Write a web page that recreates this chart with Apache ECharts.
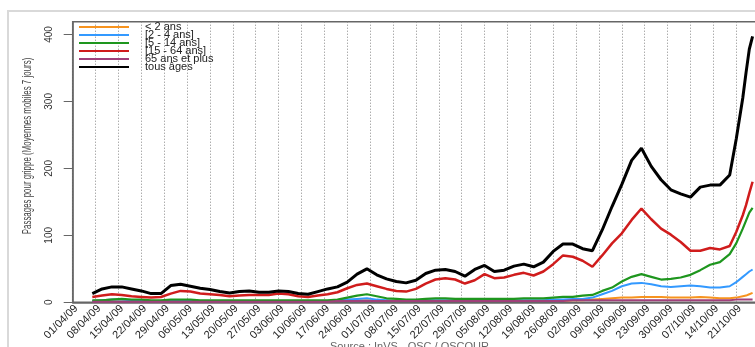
<!DOCTYPE html>
<html>
<head>
<meta charset="utf-8">
<script src="https://cdn.jsdelivr.net/npm/echarts@6/dist/echarts.min.js"></script>
<style>
  html, body { margin: 0; padding: 0; background: #fff; }
  #chart { width: 755px; height: 347px; }
</style>
</head>
<body>
<div id="chart"></div>
<script>
// weekly tick labels (day 0 = 01/04/09)
var tickLabels = ["01/04/09", "08/04/09", "15/04/09", "22/04/09", "29/04/09", "06/05/09", "13/05/09",
  "20/05/09", "27/05/09", "03/06/09", "10/06/09", "17/06/09", "24/06/09", "01/07/09", "08/07/09",
  "15/07/09", "22/07/09", "29/07/09", "05/08/09", "12/08/09", "19/08/09", "26/08/09", "02/09/09",
  "09/09/09", "16/09/09", "23/09/09", "30/09/09", "07/10/09", "14/10/09", "21/10/09"]

// sample days (days since 01/04/09)
var days = [6, 9, 12, 15, 18, 21, 24, 27, 30, 33, 36, 39, 42, 45, 48, 51, 54, 57, 60, 63, 66, 69, 72, 75,
  78, 81, 84, 87, 90, 93, 96, 99, 102, 105, 108, 111, 114, 117, 120, 123, 126, 129, 132, 135, 138, 141,
  144, 147, 150, 153, 156, 159, 162, 165, 168, 171, 174, 177, 180, 183, 186, 189, 192, 195, 198, 201,
  203, 205, 206, 207, 208]

var moins2 = [2, 3, 4, 4, 3, 2, 2, 2, 2, 2, 2, 2, 2, 2, 2, 2, 2, 2, 2, 2, 2, 2, 2, 2,
  2, 2, 3, 3, 3, 3, 2, 2, 2, 2, 2, 2, 2, 2, 2, 2, 2, 2, 2, 2, 2, 2,
  2, 2, 2, 3, 3, 4, 5, 6, 7, 7, 8, 8, 8, 7, 7, 7, 8, 7, 6, 6,
  7, 9, 10, 12, 14]
var de2a4 = [2, 3, 4, 4, 3, 2, 2, 2, 2, 2, 2, 2, 2, 2, 2, 2, 2, 2, 2, 2, 2, 2, 2, 2,
  2, 3, 4, 5, 6, 4, 3, 2, 2, 2, 3, 3, 3, 3, 3, 3, 3, 3, 3, 3, 3, 3,
  3, 4, 4, 5, 5, 7, 12, 17, 24, 28, 29, 27, 24, 23, 24, 25, 24, 22, 22, 24,
  30, 38, 42, 46, 49]
var de5a14 = [3, 3, 4, 5, 4, 4, 3, 3, 4, 4, 4, 3, 3, 3, 3, 3, 3, 3, 3, 3, 3, 3, 3, 3,
  3, 4, 7, 10, 12, 9, 6, 5, 4, 4, 5, 6, 6, 5, 5, 5, 5, 5, 5, 5, 6, 6,
  6, 7, 8, 8, 10, 11, 17, 22, 31, 38, 42, 38, 34, 35, 37, 41, 48, 56, 60, 72,
  88, 110, 122, 134, 141]
var de15a64 = [8, 10, 12, 11, 9, 8, 7, 8, 13, 17, 16, 13, 12, 11, 9, 10, 11, 11, 11, 13, 12, 9, 8, 10,
  12, 15, 21, 26, 28, 24, 20, 17, 16, 20, 28, 34, 36, 34, 28, 33, 42, 36, 37, 41, 44, 40,
  46, 57, 70, 68, 62, 53, 70, 88, 103, 123, 140, 124, 110, 101, 90, 77, 77, 81, 79, 84,
  105, 130, 145, 163, 180]
var plus65 = [1, 1, 1, 1, 1, 1, 1, 1, 1, 1, 1, 1, 1, 1, 1, 1, 1, 1, 1, 1, 1, 1, 1, 1,
  1, 2, 2, 2, 2, 2, 2, 2, 2, 2, 2, 2, 2, 2, 2, 2, 2, 2, 2, 2, 2, 2,
  2, 2, 2, 3, 3, 3, 3, 3, 3, 3, 3, 3, 3, 3, 3, 3, 3, 3, 3, 3,
  4, 4, 4, 4, 4]
var tous = [13, 20, 23, 23, 20, 17, 13, 13, 25, 27, 24, 21, 19, 16, 14, 16, 17, 15, 15, 17, 16, 13, 12, 16,
  20, 23, 30, 42, 50, 41, 35, 31, 29, 33, 43, 48, 49, 46, 39, 49, 55, 46, 48, 54, 57, 53,
  60, 76, 87, 87, 80, 77, 108, 143, 176, 212, 230, 203, 183, 168, 162, 157, 172, 175, 175, 190,
  244, 305, 343, 378, 397]

var seriesNames = ["< 2 ans", "[2 - 4 ans]", "[5 - 14 ans]", "[15 - 64 ans]", "65 ans et plus", "tous âges"]
var seriesValues = [moins2, de2a4, de5a14, de15a64, plus65, tous]
var colors = ["#f7931e", "#3399ff", "#1e961e", "#d01c1c", "#a0407a", "#000000"]
var widths = [2, 2, 2.2, 2.5, 2, 3]

function pairs(vals) {
  return days.map(function (d, i) { return [d, vals[i]] })
}

var chart = echarts.init(document.getElementById('chart'))
var option = {
  animation: false,
  backgroundColor: '#fff',
  color: colors,
  graphic: [
    {
      type: 'rect',
      shape: { x: 8, y: 11, width: 800, height: 400 },
      style: { fill: 'none', stroke: '#d9d9d9', lineWidth: 2 },
      silent: true
    },
    {
      type: 'text',
      x: 28,
      y: 146,
      rotation: Math.PI / 2,
      scaleX: 0.66,
      style: {
        text: 'Passages pour grippe (Moyennes mobiles 7 jours)',
        fill: '#444',
        font: '12px "Liberation Sans", Arial, sans-serif',
        textAlign: 'center',
        textVerticalAlign: 'middle'
      }
    },
    {
      type: 'text',
      x: 330,
      y: 341,
      style: {
        text: 'Source : InVS - OSC / OSCOUR',
        fill: '#666',
        font: '11px "Liberation Sans", Arial, sans-serif',
        textAlign: 'left',
        textVerticalAlign: 'top'
      }
    }
  ],
  legend: {
    orient: 'vertical',
    left: 79,
    top: 20.5,
    padding: 0,
    icon: 'rect',
    itemWidth: 50,
    itemHeight: 2,
    itemGap: -5,
    data: seriesNames,
    textStyle: {
      color: '#222',
      fontSize: 11,
      lineHeight: 13,
      fontFamily: 'Liberation Sans',
      padding: [0, 0, 0, 11]
    }
  },
  grid: {
    left: 72.7,
    top: 21.7,
    bottom: 44.7,
    right: -27,
    outerBoundsMode: 'none',
    show: true,
    borderColor: '#666',
    borderWidth: 1.5
  },
  xAxis: {
    type: 'value',
    min: 0,
    max: 217,
    interval: 7,
    axisLine: { show: true, lineStyle: { color: '#666', width: 1.5 } },
    axisTick: { show: false },
    splitLine: { show: true, lineStyle: { color: '#888', type: [1, 2], width: 1 } },
    axisLabel: {
      rotate: 45,
      margin: 8,
      fontSize: 11,
      color: '#222',
      fontFamily: 'Liberation Sans',
      showMaxLabel: false,
      padding: [10, -5, 0, 0],
      formatter: function (v) {
        var k = Math.round(v / 7)
        return tickLabels[k] || ''
      }
    }
  },
  yAxis: {
    type: 'value',
    min: 0,
    max: 419,
    axisLine: { show: true, lineStyle: { color: '#666', width: 1.5 } },
    axisTick: { show: true, length: 9, customValues: [0, 100, 200, 300, 400], lineStyle: { color: '#666' } },
    splitLine: { show: false },
    axisLabel: {
      rotate: 90,
      margin: 18,
      fontSize: 10,
      color: '#333',
      fontFamily: "'Liberation Sans Narrow', 'Liberation Sans', sans-serif",
      customValues: [0, 100, 200, 300, 400]
    }
  },
  series: seriesNames.map(function (name, i) {
    return {
      name: name,
      type: 'line',
      symbol: 'none',
      data: pairs(seriesValues[i]),
      lineStyle: { color: colors[i], width: widths[i] },
      itemStyle: { color: colors[i] }
    }
  })
}
chart.setOption(option)
</script>
</body>
</html>
